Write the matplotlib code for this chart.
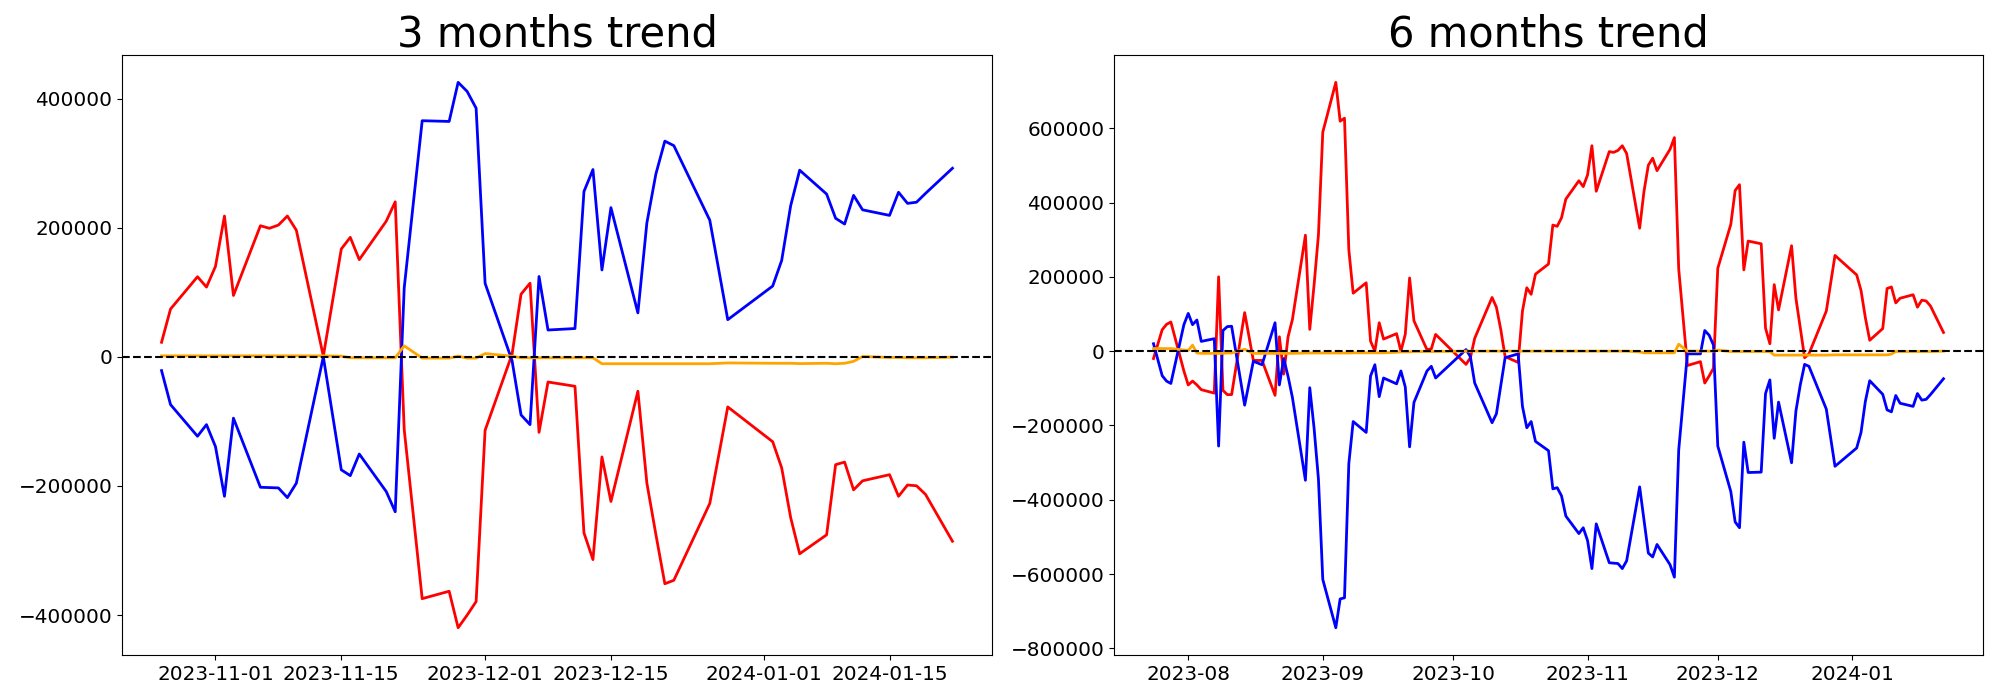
import pandas as pd
import matplotlib
matplotlib.use("Agg")
import matplotlib.pyplot as plt

# 3 months window
dates_3m = [
    "2023-10-26", "2023-10-27", "2023-10-30", "2023-10-31", "2023-11-01",
    "2023-11-02", "2023-11-03", "2023-11-06", "2023-11-07", "2023-11-08",
    "2023-11-09", "2023-11-10", "2023-11-13", "2023-11-15", "2023-11-16",
    "2023-11-17", "2023-11-20", "2023-11-21", "2023-11-22", "2023-11-24",
    "2023-11-27", "2023-11-28", "2023-11-29", "2023-11-30", "2023-12-01",
    "2023-12-04", "2023-12-05", "2023-12-06", "2023-12-07", "2023-12-08",
    "2023-12-11", "2023-12-12", "2023-12-13", "2023-12-14", "2023-12-15",
    "2023-12-18", "2023-12-19", "2023-12-20", "2023-12-21", "2023-12-22",
    "2023-12-26", "2023-12-28", "2024-01-02", "2024-01-03", "2024-01-04",
    "2024-01-05", "2024-01-08", "2024-01-09", "2024-01-10", "2024-01-11",
    "2024-01-12", "2024-01-15", "2024-01-16", "2024-01-17", "2024-01-18",
    "2024-01-19", "2024-01-22",
]
red_3m = [
    22500, 74000, 124000, 108000, 140000,
    218000, 95000, 203000, 199000, 204000,
    218000, 196000, 1000, 167000, 185000,
    150500, 210000, 240000, -112600, -374500,
    -363000, -419500, -400000, -379000, -113800,
    4000, 97000, 114000, -117000, -39000,
    -45600, -272600, -314000, -155000, -224000,
    -53300, -195600, -275000, -351400, -346000,
    -227000, -77600, -131500, -172000, -249000,
    -305000, -275600, -167000, -163000, -206000,
    -192000, -182500, -216000, -198500, -199700,
    -213000, -285600,
]
blue_3m = [
    -21300, -74000, -123000, -105000, -139000,
    -216000, -95000, -202000, -202500, -203000,
    -218000, -195600, 0, -175000, -184000,
    -150500, -208600, -240000, 106700, 365600,
    364500, 425000, 411000, 385000, 113800,
    -6000, -90000, -105000, 124400, 41500,
    43800, 256000, 290000, 134500, 231000,
    68000, 207400, 283000, 334000, 327000,
    211500, 57500, 109600, 149300, 234000,
    289000, 252000, 214500, 205600, 250000,
    227600, 219000, 254800, 237600, 239400,
    253000, 292000,
]
orange_3m = [
    1500, 1500, 1500, 1500, 1500,
    1500, 1500, 1500, 1500, 1500,
    1500, 1500, 1500, 1000, -1500,
    -1500, -1500, -1500, 17000, -2000,
    -2000, 1000, -2000, -2000, 5000,
    1000, -1500, -1500, -1500, -1500,
    -1500, -1500, -1500, -10700, -10700,
    -10700, -10700, -10700, -10700, -10700,
    -10700, -9500, -10000, -10000, -10000,
    -10500, -10000, -10700, -10000, -7000,
    500, -1000, -1000, -1500, -1500,
    -1500, -500,
]

# 6 months window
dates_6m = [
    "2023-07-24", "2023-07-26", "2023-07-27", "2023-07-28", "2023-07-31",
    "2023-08-01", "2023-08-02", "2023-08-03", "2023-08-04", "2023-08-07",
    "2023-08-08", "2023-08-09", "2023-08-10", "2023-08-11", "2023-08-14",
    "2023-08-16", "2023-08-18", "2023-08-21", "2023-08-22", "2023-08-23",
    "2023-08-24", "2023-08-25", "2023-08-28", "2023-08-29", "2023-08-30",
    "2023-08-31", "2023-09-01", "2023-09-04", "2023-09-05", "2023-09-06",
    "2023-09-07", "2023-09-08", "2023-09-11", "2023-09-12", "2023-09-13",
    "2023-09-14", "2023-09-15", "2023-09-18", "2023-09-19", "2023-09-20",
    "2023-09-21", "2023-09-22", "2023-09-25", "2023-09-26", "2023-09-27",
    "2023-10-04", "2023-10-05", "2023-10-06", "2023-10-10", "2023-10-11",
    "2023-10-12", "2023-10-13", "2023-10-16", "2023-10-17", "2023-10-18",
    "2023-10-19", "2023-10-20", "2023-10-23", "2023-10-24", "2023-10-25",
    "2023-10-26", "2023-10-27", "2023-10-30", "2023-10-31", "2023-11-01",
    "2023-11-02", "2023-11-03", "2023-11-06", "2023-11-07", "2023-11-08",
    "2023-11-09", "2023-11-10", "2023-11-13", "2023-11-14", "2023-11-15",
    "2023-11-16", "2023-11-17", "2023-11-20", "2023-11-21", "2023-11-22",
    "2023-11-24", "2023-11-27", "2023-11-28", "2023-11-29", "2023-11-30",
    "2023-12-01", "2023-12-04", "2023-12-05", "2023-12-06", "2023-12-07",
    "2023-12-08", "2023-12-11", "2023-12-12", "2023-12-13", "2023-12-14",
    "2023-12-15", "2023-12-18", "2023-12-19", "2023-12-20", "2023-12-21",
    "2023-12-22", "2023-12-26", "2023-12-28", "2024-01-02", "2024-01-03",
    "2024-01-04", "2024-01-05", "2024-01-08", "2024-01-09", "2024-01-10",
    "2024-01-11", "2024-01-12", "2024-01-15", "2024-01-16", "2024-01-17",
    "2024-01-18", "2024-01-19", "2024-01-22",
]
red_6m = [
    -19900, 57600, 72000, 78500, -53400,
    -91000, -80600, -91000, -103700, -113000,
    200000, -105700, -117000, -117000, 103700,
    -25000, -25000, -119000, 38700, -61800,
    38700, 85000, 312000, 58600, 179000,
    313000, 589500, 723500, 619000, 627000,
    273000, 156000, 184000, 27000, 0,
    76400, 32500, 47000, 0, 45000,
    197000, 81700, 4000, 6000, 45000,
    -35600, -17800, 34600, 144500, 118000,
    58600, -14700, -30400, 107800, 170700,
    152900, 207300, 234500, 339300, 336000,
    359000, 409400, 458600, 442900, 474300,
    552900, 430400, 537100, 535000, 540300,
    552900, 532000, 331000, 430400, 500500,
    519300, 485800, 543400, 574800, 221000,
    -38700, -28300, -85900, -67000, -46100,
    223000, 341300, 432400, 448100, 218800,
    296300, 289000, 61800, 19900, 179000,
    111000, 283800, 142400, 63000, -17800,
    -7300, 107800, 257600, 205200, 163300,
    90000, 29300, 60700, 168600, 172800,
    129800, 142400, 151800, 118300, 137200,
    135100, 121500, 50300,
]
blue_6m = [
    20000, -66000, -80600, -87000, 71200,
    101600, 71200, 83800, 26200, 33500,
    -255500, 55500, 66000, 67000, -145500,
    -27200, -36600, 76400, -91000, -20000,
    -68000, -124600, -347600, -98400, -208000,
    -344500, -614600, -744500, -667000, -664000,
    -302600, -189500, -218800, -67000, -36600,
    -122500, -72300, -88000, -53400, -96300,
    -257600, -138200, -53400, -40800, -72300,
    4200, -14700, -85900, -192700, -168600,
    -93200, -17800, -7300, -148700, -206300,
    -189500, -242900, -268000, -370700, -367500,
    -389500, -444000, -491100, -475400, -509900,
    -585300, -464900, -569600, -570700, -571700,
    -585300, -564400, -365400, -454500, -543500,
    -554000, -520400, -574800, -608400, -266000,
    -7300, -7300, 55500, 43000, 16700,
    -255500, -378000, -459700, -475400, -245000,
    -326700, -325700, -114100, -77500, -234600,
    -137200, -300500, -161300, -91100, -35600,
    -40800, -156000, -310000, -260700, -218800,
    -135100, -79600, -116200, -158100, -163400,
    -119400, -140300, -148700, -114100, -131900,
    -129800, -117000, -74300,
]
orange_6m = [
    7000, 7000, 7000, 7000, 3000,
    2000, 16000, -5000, -6000, -6000,
    -6000, -6000, -5000, -5000, 5000,
    -6000, -6000, -6000, -6000, -6000,
    -6000, -6000, -5000, -5000, -5000,
    -5000, -5000, -5000, -5000, -5000,
    -5000, -4500, -4500, -4500, -4500,
    -4500, -4500, -3000, -2000, -2000,
    -2000, -1000, -1000, -1000, -1000,
    0, 0, 0, 0, 0,
    0, 0, 0, 0, 0,
    0, 0, 0, 0, 0,
    0, 0, 0, 0, 0,
    0, 0, 0, 0, 0,
    0, 0, -2000, -4500, -4500,
    -4500, -4500, -4500, -4500, 18700,
    0, 0, 0, 0, 0,
    2700, -1000, -1000, -1000, -1000,
    -1000, -1000, -1000, -1000, -10700,
    -10700, -10700, -10700, -10700, -10700,
    -10700, -10700, -10000, -10000, -10000,
    -10000, -10000, -10000, -10000, -8000,
    -1000, -1000, -1000, -1000, -1000,
    -1000, -1000, 0,
]

titles = ["3 months trend", "6 months trend"]

fig = plt.figure(figsize=(20, 7), dpi=100)
ax1 = fig.add_axes([0.061, 0.0643, 0.435, 0.857])
ax2 = fig.add_axes([0.557, 0.0643, 0.4345, 0.857])

panels = [
    (ax1, dates_3m, red_3m, blue_3m, orange_3m),
    (ax2, dates_6m, red_6m, blue_6m, orange_6m),
]
for (ax, d, r, b, o), title in zip(panels, titles):
    x = pd.to_datetime(d)
    ax.plot(x, r, color="red", linewidth=2)
    ax.plot(x, b, color="blue", linewidth=2)
    ax.plot(x, o, color="orange", linewidth=2)
    ax.axhline(0, color="black", linestyle="--", linewidth=1.5)
    ax.set_title(title, fontsize=30)
    ax.tick_params(labelsize=14.4)

fig.savefig("out.png", dpi=100)
